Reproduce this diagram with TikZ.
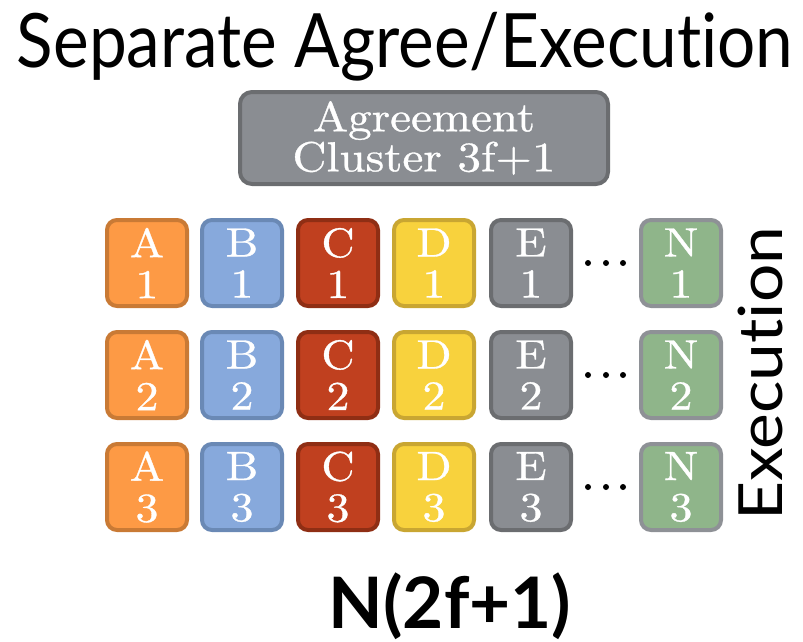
\documentclass[tikz,border=0pt]{standalone}
\usepackage{fontspec}
\newfontfamily\gill[Ligatures=NoCommon, FakeStretch=0.9]{Lato}
\newfontfamily\gillx[Ligatures=NoCommon, FakeStretch=1.11]{Lato}
\newfontfamily\gillb[Ligatures=NoCommon]{Lato Bold}
\newfontfamily\serifx[FakeStretch=1.12, FakeBold=0.8]{lmroman10-regular.otf}
\definecolor{orF}{HTML}{FD9A45}\definecolor{orD}{HTML}{C97A35}
\definecolor{blF}{HTML}{87A9DC}\definecolor{blD}{HTML}{6A89B5}
\definecolor{rdF}{HTML}{C0401F}\definecolor{rdD}{HTML}{8F2E14}
\definecolor{ylF}{HTML}{F8D23D}\definecolor{ylD}{HTML}{C9A632}
\definecolor{gyF}{HTML}{8A8D92}\definecolor{gyD}{HTML}{6B6D70}
\definecolor{gnF}{HTML}{8FB58A}\definecolor{gnD}{HTML}{8E9196}
\tikzset{
  tile/.style={draw, rounded corners=10pt, line width=4pt, minimum width=80pt, minimum height=86pt,
    inner sep=0pt, text=white, align=center, font=\serifx\fontsize{41}{41}\selectfont},
  agree/.style={draw=gyD, fill=gyF, rounded corners=12pt, line width=4pt, minimum width=368pt,
    minimum height=92pt, inner sep=0pt, text=white, align=center, font=\serifx\fontsize{42}{40}\selectfont},
  dot/.style={circle, fill=black, inner sep=0pt, minimum size=6pt},
}
\begin{document}
\begin{tikzpicture}[x=1pt,y=-1pt]
\useasboundingbox (0,0) rectangle (803,642);
\node[anchor=base, inner sep=0pt, font=\gill\fontsize{75}{75}\selectfont] (title) at (405,67) {Separate Agree/Execution};
\node[agree] (agr) at (424,138) {Agreement\\Cluster 3f+1};
\foreach \L/\x/\f/\d in {A/147/orF/orD, B/242/blF/blD, C/338/rdF/rdD, D/434/ylF/ylD, E/531/gyF/gyD, N/681/gnF/gnD}{
  \foreach \r/\y in {1/263, 2/375, 3/487}{
    \node[tile, fill=\f, draw=\d] (\L\r) at (\x,\y) {\L\\\r};
  }
}
\foreach \r/\y in {1/263, 2/375, 3/487}{
  \node[dot] (d\r a) at (588,\y) {};
  \node[dot] (d\r b) at (606,\y) {};
  \node[dot] (d\r c) at (623,\y) {};
}
\node[rotate=90, anchor=base west, inner sep=0pt, font=\gillx\fontsize{61}{61}\selectfont] (exec) at (782,521) {Execution};
\node[anchor=base, inner sep=0pt, font=\gillb\fontsize{71}{71}\selectfont] (nf) at (450,628) {N(2f+1)};
\end{tikzpicture}
\end{document}
